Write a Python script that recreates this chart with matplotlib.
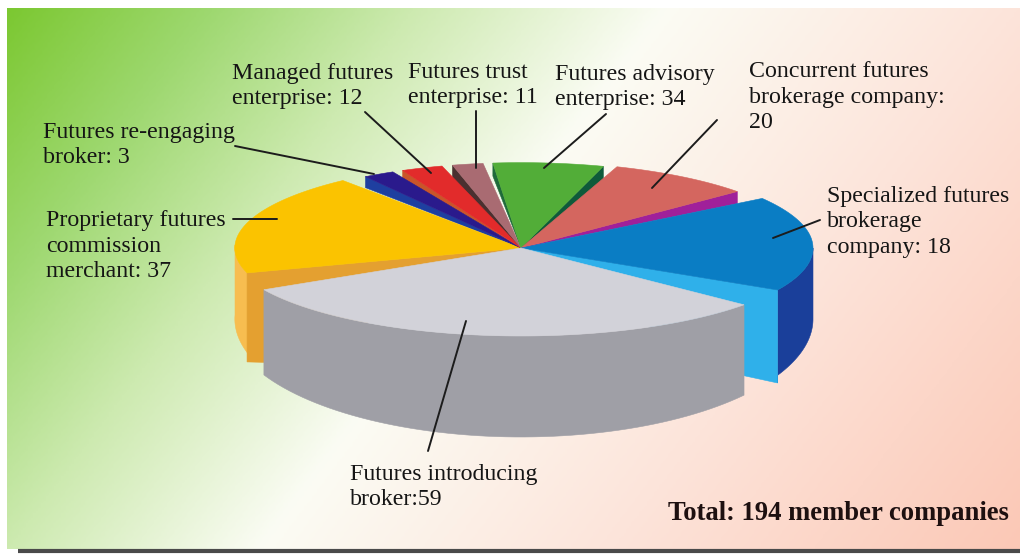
#!/usr/bin/env python3
"""Exploded 3D pie of futures member companies, 194 in total."""

import matplotlib

matplotlib.use("Agg")
import matplotlib.pyplot as plt
import numpy as np
from matplotlib.colors import LinearSegmentedColormap
from matplotlib.patches import Polygon

plt.rcParams["font.family"] = ["Liberation Serif", "DejaVu Serif"]

# clockwise from the front slice
slice_names = [
    "Futures introducing\nbroker",
    "Proprietary futures\ncommission\nmerchant",
    "Futures re-engaging\nbroker",
    "Managed futures\nenterprise",
    "Futures trust\nenterprise",
    "Futures advisory\nenterprise",
    "Concurrent futures\nbrokerage company",
    "Specialized futures\nbrokerage\ncompany",
]
member_counts = [59, 37, 3, 12, 11, 34, 20, 18]
count_separators = [":", ": ", ": ", ": ", ": ", ": ", ":\n", ": "]
# the drawn slices are not proportional to the counts, so spans are read off the picture
drawn_spans = [111.5, 68.3, 6.4, 8.5, 6.3, 22.6, 29.5, 62.8]
gaps_before = [0.0, 11.5, 5.2, 2.2, 2.2, 2.0, 2.7, 6.6]
first_angle = 40.2

top_colors = ["#d2d2d9", "#fbc300", "#2a1a8c", "#e22b2b", "#a96b72", "#52ad38", "#d4665f", "#0a7dc4"]
radii = [1.0, 0.98, 0.97, 0.97, 0.97, 0.97, 0.98, 1.0]

CX, CY = 521, 248
RX, RY = 292, 88
BOTTOM_CY, BOTTOM_RY = 319, 118


def rim(t, r=1.0):
    t = np.radians(t)
    return CX + RX * r * np.cos(t), CY + RY * r * np.sin(t)


def bottom_rim(t, r=1.0):
    t = np.radians(t)
    return CX + RX * r * np.cos(t), BOTTOM_CY + BOTTOM_RY * r * np.sin(t)


def arc(func, t0, t1, r):
    x, y = func(np.linspace(t0, t1, 60), r)
    return np.column_stack([x, y])


def draw_background(ax):
    stops = [(0.0, "#7cc832"), (0.143, "#9ed870"), (0.286, "#cdeab0"), (0.464, "#fbfcf4"),
             (0.714, "#fde4da"), (1.0, "#fbc8b6")]
    cmap = LinearSegmentedColormap.from_list("bg", stops)
    xx, yy = np.meshgrid(np.linspace(0, 1, 400), np.linspace(0, 1, 220))
    ax.imshow((xx + 0.4 * yy) / 1.4, cmap=cmap, vmin=0, vmax=1, extent=(7, 1020, 549, 8),
              aspect="auto", zorder=0, interpolation="bilinear")
    ax.plot([18, 1020], [551, 551], color="#4a4a4a", lw=3, zorder=0.5, solid_capstyle="butt")


def poly(ax, pts, color, z):
    ax.add_patch(Polygon(pts, closed=True, facecolor=color, edgecolor=color, lw=0.4, zorder=z))


def drop_wall(ax, t, r, drop, color, z=1):
    x, y = rim(t, r)
    poly(ax, [(CX, CY), (x, y), (x, y + drop)], color, z)


fig = plt.figure(figsize=(10.25, 5.54), dpi=100)
ax = fig.add_axes([0, 0, 1, 1])
draw_background(ax)

starts = []
angle = first_angle
for span, gap in zip(drawn_spans, gaps_before):
    angle += gap
    starts.append(angle)
    angle += span
ends = [s + d for s, d in zip(starts, drawn_spans)]

# thin cut faces of the back slices
drop_wall(ax, starts[2], radii[2], 11, "#1e3fa0")
drop_wall(ax, starts[3], radii[3], 8, "#c9552a")
drop_wall(ax, starts[4], radii[4], 14, "#4a3030")
drop_wall(ax, starts[5], radii[5], 13, "#1f6b3a")
drop_wall(ax, ends[5], radii[5], 14, "#0e5a3a")
drop_wall(ax, ends[6], radii[6], 12, "#a0209a")

# yellow slice, outer wall then cut face
t0, r = starts[1], radii[1]
top = arc(rim, t0, 182, r)
bot = arc(bottom_rim, 182, t0, r)
poly(ax, np.vstack([top, bot]), "#f7bd50", 2)
x, y = rim(t0, r)
poly(ax, [(CX, CY), (x, y), (x, y + 89), (x + 40, y + 90)], "#e4a030", 2.1)

# blue slice, outer wall then cut face
t1, r = ends[7] % 360, radii[7]
top = arc(rim, 0, t1, r)
bot = arc(bottom_rim, t1, 0, r)
x, y = rim(t1, r)
poly(ax, np.vstack([top, [(x, y + 93)], bot]), "#1a3f9a", 2)
poly(ax, [(CX, CY), (x, y), (x, y + 93), (x - 60, y + 80)], "#2fb0ea", 2.1)

# top faces of everything except the front slice
for i in range(1, len(drawn_spans)):
    pts = arc(rim, starts[i], ends[i], radii[i])
    poly(ax, np.vstack([[(CX, CY)], pts]), top_colors[i], 3)

# front slice
top = arc(rim, starts[0], ends[0], radii[0])
bot = arc(bottom_rim, ends[0], starts[0], radii[0])
poly(ax, np.vstack([top, bot]), "#9f9fa6", 4)
poly(ax, np.vstack([[(CX, CY)], top]), top_colors[0], 5)

# leader lines
leaders = [
    ((428, 451), (466, 321)),
    ((233, 219), (277, 219)),
    ((235, 146), (374, 174)),
    ((365, 112), (431, 173)),
    ((476, 111), (476, 168)),
    ((606, 114), (544, 168)),
    ((717, 120), (652, 188)),
    ((820, 220), (773, 238)),
]
for (x0, y0), (x1, y1) in leaders:
    ax.plot([x0, x1], [y0, y1], color="#1c1c1c", lw=1.4, zorder=6, solid_capstyle="round")

label_pos = [(350, 487), (46, 246), (43, 145), (232, 86), (408, 85), (555, 87), (749, 97), (827, 222)]
for name, count, sep, (x, y) in zip(slice_names, member_counts, count_separators, label_pos):
    ax.text(x, y, f"{name}{sep}{count}", fontsize=17.2, color="#151515", ha="left", va="center",
            linespacing=1.27, zorder=7)

ax.text(668, 513, "Total: 194 member companies", fontsize=19.2, fontweight="bold",
        color="#1d1010", ha="left", va="center", zorder=7)

ax.set_xlim(0, 1025)
ax.set_ylim(554, 0)
ax.axis("off")
fig.savefig("out.png", dpi=100, facecolor="white")
plt.close(fig)
